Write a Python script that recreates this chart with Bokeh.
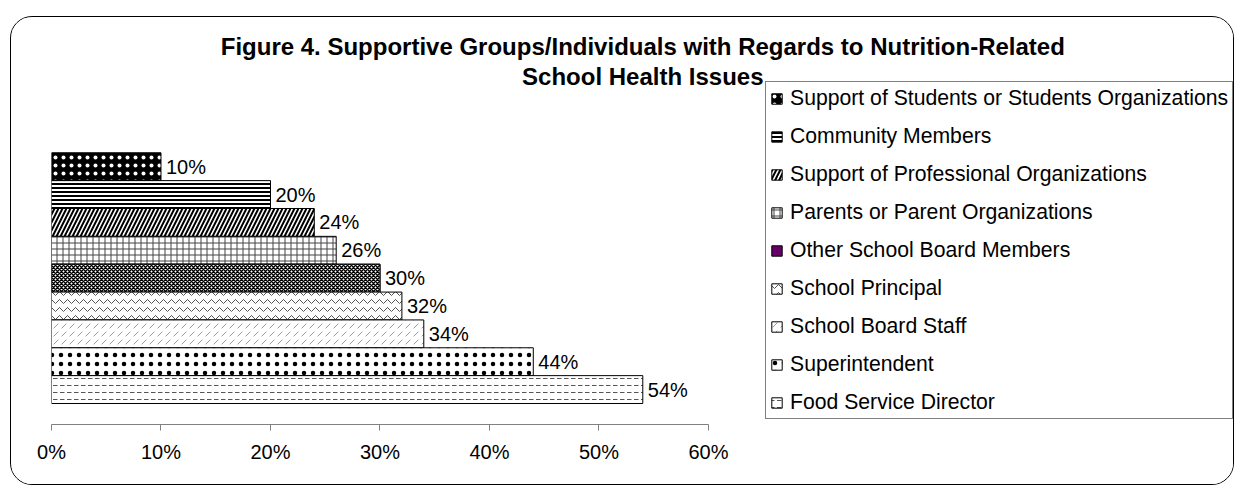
from bokeh.plotting import figure
from bokeh.models import (Range1d, Legend, LegendItem, Label,
                          FixedTicker, ColumnDataSource)
from bokeh.embed import file_html
from bokeh.resources import INLINE
from bokeh.core.properties import value

# ---------------- data ----------------
title_lines = ["Figure 4. Supportive Groups/Individuals with Regards to Nutrition-Related",
               "School Health Issues"]
categories = [
    "Support of Students or Students Organizations",
    "Community Members",
    "Support of Professional Organizations",
    "Parents or Parent Organizations",
    "Other School Board Members",
    "School Principal",
    "School Board Staff",
    "Superintendent",
    "Food Service Director",
]
values = [0.10, 0.20, 0.24, 0.26, 0.30, 0.32, 0.34, 0.44, 0.54]
x_ticks = [0.0, 0.1, 0.2, 0.3, 0.4, 0.5, 0.6]
x_tick_labels = ["0%", "10%", "20%", "30%", "40%", "50%", "60%"]

# ---------------- styles ----------------
FONT = "Liberation Sans"
bar_styles = [
    dict(fill_color="black", hatch_pattern="dot", hatch_color="white", hatch_scale=8, hatch_weight=0.5),
    dict(fill_color="white", hatch_pattern="horizontal_line", hatch_color="black", hatch_scale=4, hatch_weight=2),
    dict(fill_color="white", hatch_pattern="right_diagonal_line", hatch_color="black", hatch_scale=8, hatch_weight=2),
    dict(fill_color="white", hatch_pattern="cross", hatch_color="#444444", hatch_scale=6, hatch_weight=1),
    dict(fill_color="white", hatch_pattern="diagonal_cross", hatch_color="black", hatch_scale=4, hatch_weight=1.5),
    dict(fill_color="white", hatch_pattern="horizontal_wave", hatch_color="#555555", hatch_scale=8, hatch_weight=1),
    dict(fill_color="white", hatch_pattern="right_diagonal_dash", hatch_color="#999999", hatch_scale=8, hatch_weight=1),
    dict(fill_color="white", hatch_pattern="dot", hatch_color="black", hatch_scale=9, hatch_weight=3),
    dict(fill_color="white", hatch_pattern="horizontal_dash", hatch_color="#555555", hatch_scale=7, hatch_weight=1),
]
PURPLE_ITEM = "Other School Board Members"

n = len(categories)
positions = [n - i for i in range(n)]

# the plot frame covers chart, title and legend; the axis is bounded to 0..60%
p = figure(width=1224, height=469, output_backend="svg", toolbar_location=None,
           x_range=Range1d(0, 1.0813), y_range=Range1d(-0.254, 13.782),
           y_axis_location=None,
           min_border_left=40, min_border_right=0, min_border_top=16, min_border_bottom=62)
p.styles = {"margin-left": "10px", "margin-top": "16px",
            "border": "1px solid black", "border-radius": "22px", "overflow": "hidden"}
p.title.visible = False
p.outline_line_color = None
p.xgrid.visible = False
p.ygrid.visible = False
p.background_fill_color = "white"
p.border_fill_color = "white"

legend_renderers = []
for i, (cat, v) in enumerate(zip(categories, values)):
    src = ColumnDataSource(dict(y=[positions[i]], right=[v]))
    purple = None
    if cat == PURPLE_ITEM:
        # purple swatch used by the original legend (hidden under the patterned bar)
        purple = p.hbar(y="y", right="right", left=0, height=1, source=src,
                        fill_color="#660066", line_color="black", line_width=1)
    r = p.hbar(y="y", right="right", left=0, height=1, source=src,
               line_color="black", line_width=1, **bar_styles[i])
    legend_renderers.append(purple if purple is not None else r)

# data labels
label_src = ColumnDataSource(dict(x=values, y=positions,
                                  text=[f"{round(v * 100)}%" for v in values]))
p.text(x="x", y="y", text="text", source=label_src, x_offset=5,
       text_baseline="middle", text_align="left",
       text_font=value(FONT), text_font_size="20px", text_color="black")

# x axis
ax = p.xaxis[0]
ax.ticker = FixedTicker(ticks=x_ticks)
ax.bounds = (x_ticks[0], x_ticks[-1])
ax.major_label_overrides = {t: l for t, l in zip(x_ticks, x_tick_labels)}
ax.minor_tick_line_color = None
ax.major_tick_in = 0
ax.major_tick_out = 6
ax.axis_line_color = "#808080"
ax.major_tick_line_color = "#808080"
ax.major_label_text_font = FONT
ax.major_label_text_font_size = "20px"
ax.major_label_text_color = "black"
ax.major_label_standoff = 10

# legend
items = [LegendItem(label=cat, renderers=[rr]) for cat, rr in zip(categories, legend_renderers)]
legend = Legend(items=items, location=(714, 5))
legend.border_line_color = "black"
legend.border_line_width = 1
legend.background_fill_color = "white"
legend.background_fill_alpha = 1
legend.padding = 4
legend.margin = 0
legend.spacing = 14
legend.label_height = 21
legend.glyph_height = 13
legend.glyph_width = 13
legend.label_standoff = 7
legend.label_text_font = FONT
legend.label_text_font_size = "21.2px"
legend.label_text_color = "black"
p.add_layout(legend)

# title (two centred lines)
for txt, y in zip(title_lines, [13.316, 12.239]):
    p.add_layout(Label(x=0.54, y=y, text=txt,
                       text_align="center", text_baseline="alphabetic",
                       text_font=FONT, text_font_style="bold", text_font_size="24px",
                       text_color="black"))

open("out.html", "w").write(file_html(p, INLINE))
